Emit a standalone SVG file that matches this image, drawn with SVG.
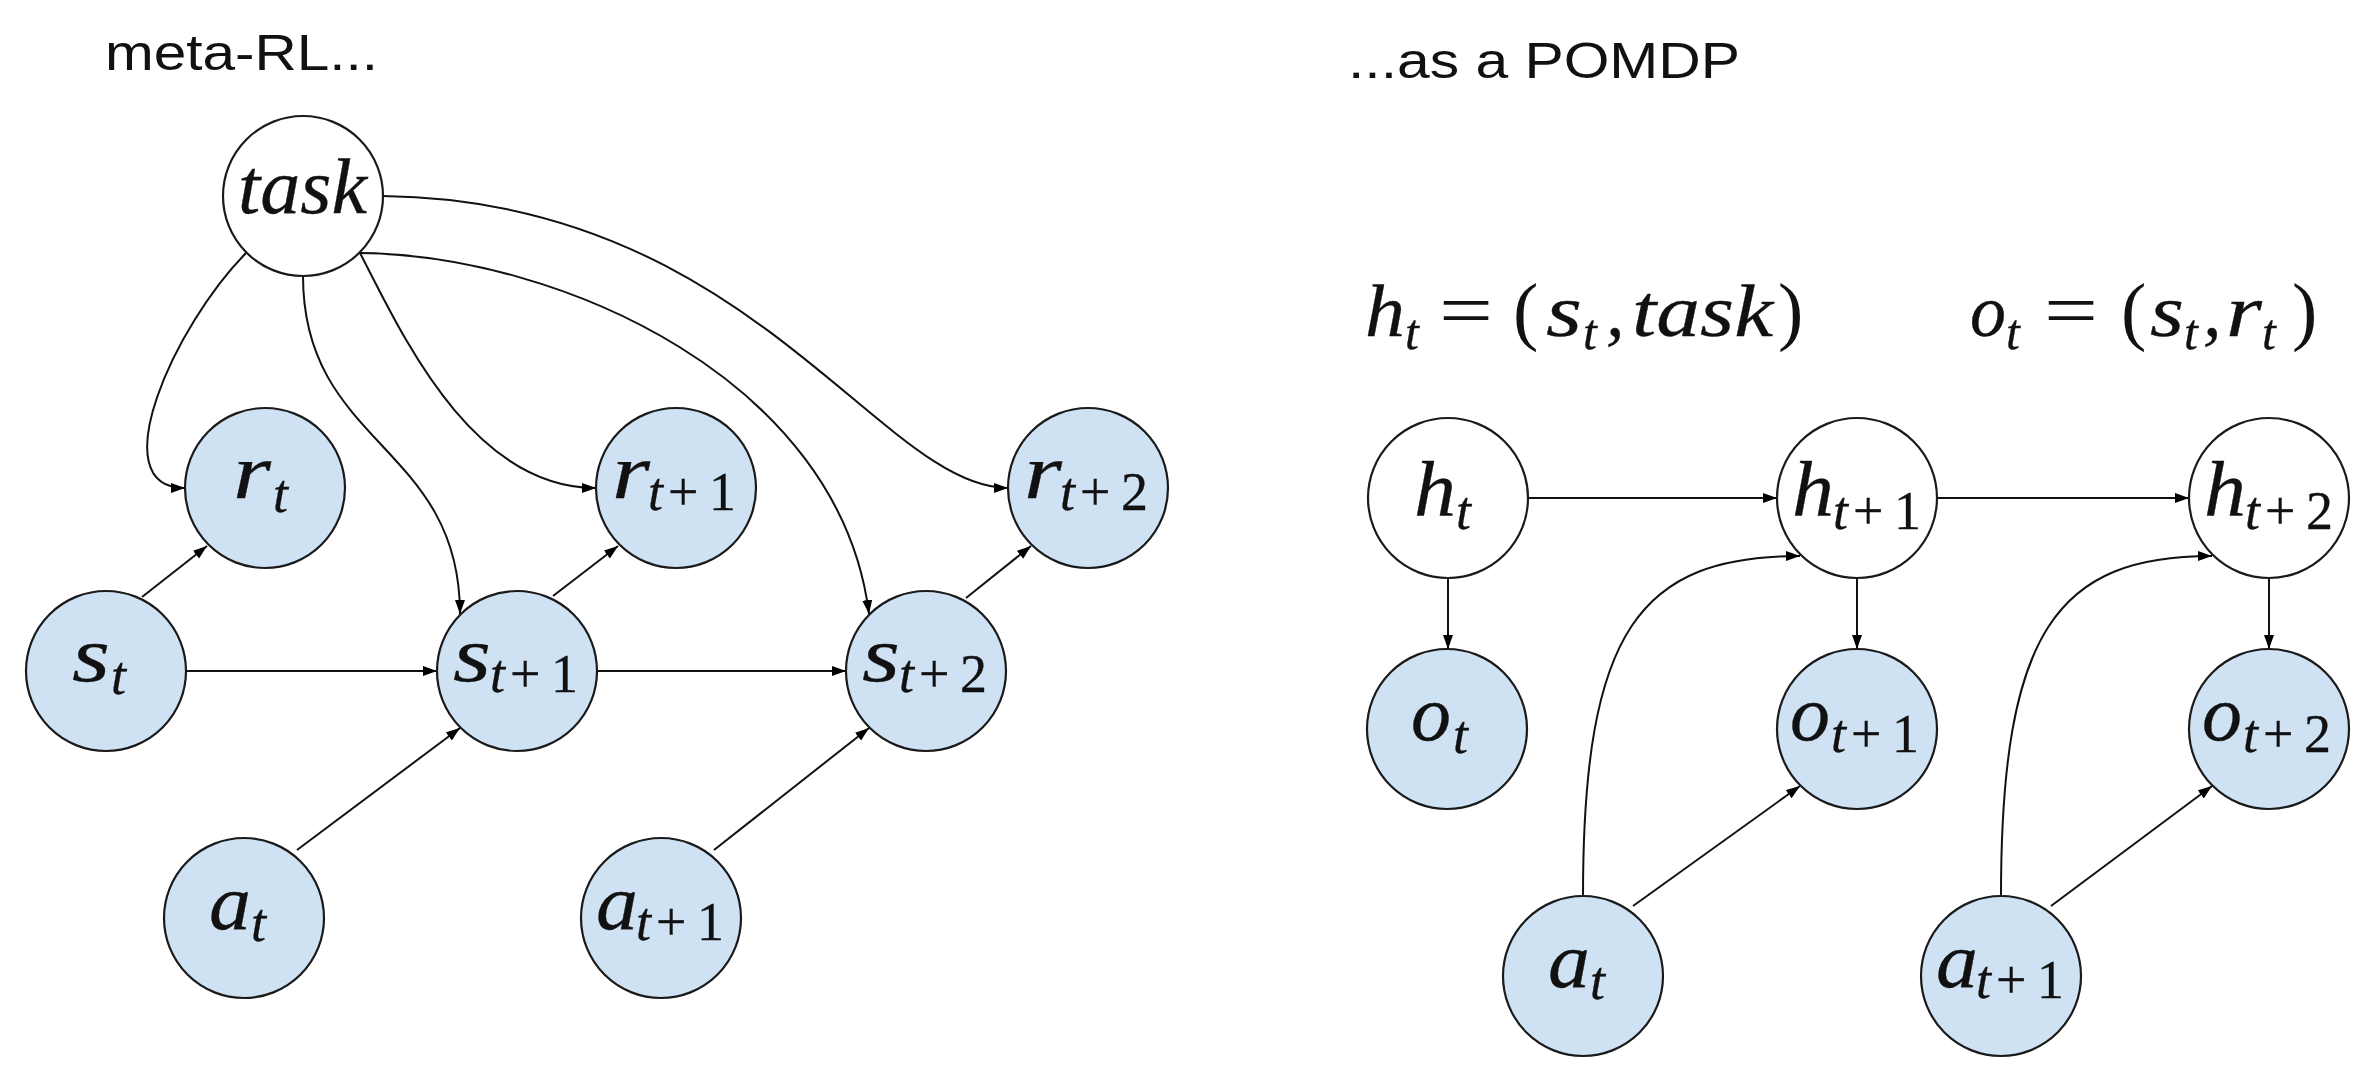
<svg xmlns="http://www.w3.org/2000/svg" width="2378" height="1074" viewBox="0 0 2378 1074">
  <defs>
    <marker id="arrow" markerUnits="userSpaceOnUse" markerWidth="16" markerHeight="12" refX="14" refY="5" orient="auto">
      <path d="M0,0 L14,5 L0,10 z" fill="#000"/>
    </marker>
    <style>
      .title { font-family: "Liberation Sans", Arial, sans-serif; font-size: 50px; fill: #111; }
      .node { stroke: #1a1a1a; stroke-width: 2.2; }
      .obs { fill: #cfe2f3; }
      .hid { fill: #ffffff; }
      .m { font-family: "Liberation Serif", serif; font-style: italic; font-size: 78px; fill: #111; stroke: #111; stroke-width: 0.3; }
      .sub { font-family: "Liberation Serif", serif; font-size: 54px; fill: #111; stroke: #111; stroke-width: 0.3; }
      .it { font-style: italic; }
      .fm { font-family: "Liberation Serif", serif; font-style: italic; font-size: 74px; fill: #111; stroke: #111; stroke-width: 0.3; }
      .fu { font-family: "Liberation Serif", serif; font-size: 76px; fill: #111; }
      .fs { font-family: "Liberation Serif", serif; font-style: italic; font-size: 50px; fill: #111; stroke: #111; stroke-width: 0.3; }
      .edge { fill: none; stroke: #111; stroke-width: 2; marker-end: url(#arrow); }
    </style>
  </defs>

  <rect width="2378" height="1074" fill="#ffffff"/>

  <!-- panel titles -->
  <text class="title" x="105" y="70" textLength="273" lengthAdjust="spacingAndGlyphs">meta-RL...</text>
  <text class="title" x="1348" y="78" textLength="392" lengthAdjust="spacingAndGlyphs">...as a POMDP</text>

  <!-- definitions of the POMDP variables -->
  <g id="def-h">
    <text class="fm" x="1365" y="336" textLength="40" lengthAdjust="spacingAndGlyphs">h</text>
    <text class="fs" x="1405" y="349">t</text>
    <text class="fu" x="1439" y="336" textLength="54" lengthAdjust="spacingAndGlyphs">=</text>
    <text class="fu" x="1513" y="336">(</text>
    <text class="fm" x="1546" y="336" textLength="36" lengthAdjust="spacingAndGlyphs">s</text>
    <text class="fs" x="1583" y="349">t</text>
    <text class="fm" x="1606" y="336">,</text>
    <text class="fm" x="1632" y="336" textLength="141" lengthAdjust="spacingAndGlyphs">task</text>
    <text class="fu" x="1778" y="336">)</text>
  </g>
  <g id="def-o">
    <text class="fm" x="1970" y="336" textLength="36" lengthAdjust="spacingAndGlyphs">o</text>
    <text class="fs" x="2006" y="349">t</text>
    <text class="fu" x="2044" y="336" textLength="54" lengthAdjust="spacingAndGlyphs">=</text>
    <text class="fu" x="2121" y="336">(</text>
    <text class="fm" x="2150" y="336" textLength="34" lengthAdjust="spacingAndGlyphs">s</text>
    <text class="fs" x="2184" y="349">t</text>
    <text class="fm" x="2203" y="336">,</text>
    <text class="fm" x="2226" y="336" textLength="36" lengthAdjust="spacingAndGlyphs">r</text>
    <text class="fs" x="2262" y="349">t</text>
    <text class="fu" x="2292" y="336">)</text>
  </g>

  <!-- connectors -->
  <g id="connectors">
    <!-- meta-RL graph -->
    <path class="edge" d="M246,253 C175,325 100,488 185,488"/>
    <path class="edge" d="M303,276 C303,446 460,444 460,614"/>
    <path class="edge" d="M360,253 C400,330 470,488 596,488"/>
    <path class="edge" d="M360,253 C560,255 840,380 869,614"/>
    <path class="edge" d="M383,196 C750,200 880,488 1008,488"/>
    <line class="edge" x1="142" y1="597" x2="207" y2="546"/>
    <line class="edge" x1="553" y1="596" x2="618" y2="546"/>
    <line class="edge" x1="966" y1="598" x2="1031" y2="546"/>
    <line class="edge" x1="186" y1="671" x2="437" y2="671"/>
    <line class="edge" x1="597" y1="671" x2="846" y2="671"/>
    <line class="edge" x1="297" y1="850" x2="460" y2="728"/>
    <line class="edge" x1="714" y1="850" x2="869" y2="728"/>
    <!-- POMDP graph -->
    <line class="edge" x1="1528" y1="498" x2="1777" y2="498"/>
    <line class="edge" x1="1937" y1="498" x2="2189" y2="498"/>
    <line class="edge" x1="1448" y1="578" x2="1448" y2="649"/>
    <line class="edge" x1="1857" y1="578" x2="1857" y2="649"/>
    <line class="edge" x1="2269" y1="578" x2="2269" y2="649"/>
    <line class="edge" x1="1633" y1="906" x2="1800" y2="786"/>
    <line class="edge" x1="2051" y1="906" x2="2212" y2="786"/>
    <path class="edge" d="M1583,896 C1583,630 1640,556 1800,556"/>
    <path class="edge" d="M2001,896 C2001,630 2058,556 2212,556"/>
  </g>

  <!-- meta-RL nodes -->
  <g id="task">
    <circle class="node hid" cx="303" cy="196" r="80"/>
    <text class="m" x="238" y="213" font-size="64" stroke-width="0.2" textLength="129" lengthAdjust="spacingAndGlyphs">task</text>
  </g>
  <g id="r_t">
    <circle class="node obs" cx="265" cy="488" r="80"/>
    <text class="m" x="233" y="498" textLength="38" lengthAdjust="spacingAndGlyphs">r</text><text class="sub it" x="273" y="512">t</text>
  </g>
  <g id="r_t1">
    <circle class="node obs" cx="676" cy="488" r="80"/>
    <text class="m" x="612" y="498" textLength="38" lengthAdjust="spacingAndGlyphs">r</text>
    <text class="sub" y="510"><tspan class="it" x="648">t</tspan><tspan x="668 709">+1</tspan></text>
  </g>
  <g id="r_t2">
    <circle class="node obs" cx="1088" cy="488" r="80"/>
    <text class="m" x="1024" y="498" textLength="38" lengthAdjust="spacingAndGlyphs">r</text>
    <text class="sub" y="510"><tspan class="it" x="1060">t</tspan><tspan x="1080 1121">+2</tspan></text>
  </g>
  <g id="s_t">
    <circle class="node obs" cx="106" cy="671" r="80"/>
    <text class="m" x="72" y="681" textLength="38" lengthAdjust="spacingAndGlyphs">s</text><text class="sub it" x="111" y="694">t</text>
  </g>
  <g id="s_t1">
    <circle class="node obs" cx="517" cy="671" r="80"/>
    <text class="m" x="453" y="681" textLength="38" lengthAdjust="spacingAndGlyphs">s</text>
    <text class="sub" y="692"><tspan class="it" x="490">t</tspan><tspan x="510 551">+1</tspan></text>
  </g>
  <g id="s_t2">
    <circle class="node obs" cx="926" cy="671" r="80"/>
    <text class="m" x="862" y="681" textLength="38" lengthAdjust="spacingAndGlyphs">s</text>
    <text class="sub" y="692"><tspan class="it" x="899">t</tspan><tspan x="919 960">+2</tspan></text>
  </g>
  <g id="a_t">
    <circle class="node obs" cx="244" cy="918" r="80"/>
    <text class="m" x="209" y="929" textLength="42" lengthAdjust="spacingAndGlyphs">a</text><text class="sub it" x="251" y="941">t</text>
  </g>
  <g id="a_t1">
    <circle class="node obs" cx="661" cy="918" r="80"/>
    <text class="m" x="596" y="929" textLength="42" lengthAdjust="spacingAndGlyphs">a</text>
    <text class="sub" y="940"><tspan class="it" x="636">t</tspan><tspan x="656 697">+1</tspan></text>
  </g>

  <!-- POMDP nodes -->
  <g id="h_t">
    <circle class="node hid" cx="1448" cy="498" r="80"/>
    <text class="m" x="1414" y="516" textLength="42" lengthAdjust="spacingAndGlyphs">h</text><text class="sub it" x="1456" y="529">t</text>
  </g>
  <g id="h_t1">
    <circle class="node hid" cx="1857" cy="498" r="80"/>
    <text class="m" x="1792" y="516" textLength="42" lengthAdjust="spacingAndGlyphs">h</text>
    <text class="sub" y="529"><tspan class="it" x="1833">t</tspan><tspan x="1853 1894">+1</tspan></text>
  </g>
  <g id="h_t2">
    <circle class="node hid" cx="2269" cy="498" r="80"/>
    <text class="m" x="2204" y="516" textLength="42" lengthAdjust="spacingAndGlyphs">h</text>
    <text class="sub" y="529"><tspan class="it" x="2245">t</tspan><tspan x="2265 2306">+2</tspan></text>
  </g>
  <g id="o_t">
    <circle class="node obs" cx="1447" cy="729" r="80"/>
    <text class="m" x="1411" y="740" textLength="40" lengthAdjust="spacingAndGlyphs">o</text><text class="sub it" x="1453" y="753">t</text>
  </g>
  <g id="o_t1">
    <circle class="node obs" cx="1857" cy="729" r="80"/>
    <text class="m" x="1790" y="740" textLength="40" lengthAdjust="spacingAndGlyphs">o</text>
    <text class="sub" y="752"><tspan class="it" x="1831">t</tspan><tspan x="1851 1892">+1</tspan></text>
  </g>
  <g id="o_t2">
    <circle class="node obs" cx="2269" cy="729" r="80"/>
    <text class="m" x="2202" y="740" textLength="40" lengthAdjust="spacingAndGlyphs">o</text>
    <text class="sub" y="752"><tspan class="it" x="2243">t</tspan><tspan x="2263 2304">+2</tspan></text>
  </g>
  <g id="pomdp_a_t">
    <circle class="node obs" cx="1583" cy="976" r="80"/>
    <text class="m" x="1548" y="987" textLength="42" lengthAdjust="spacingAndGlyphs">a</text><text class="sub it" x="1590" y="999">t</text>
  </g>
  <g id="pomdp_a_t1">
    <circle class="node obs" cx="2001" cy="976" r="80"/>
    <text class="m" x="1936" y="987" textLength="42" lengthAdjust="spacingAndGlyphs">a</text>
    <text class="sub" y="998"><tspan class="it" x="1976">t</tspan><tspan x="1996 2037">+1</tspan></text>
  </g>
</svg>
